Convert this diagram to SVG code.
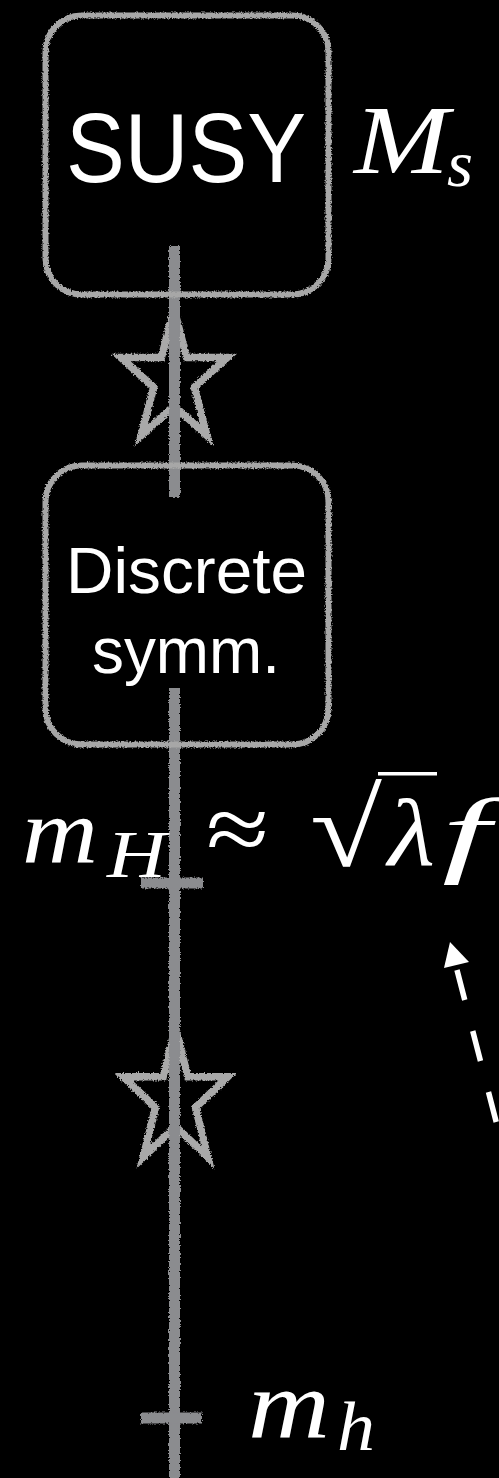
<svg xmlns="http://www.w3.org/2000/svg" width="499" height="1478" viewBox="0 0 499 1478">
<defs>
<filter id="chalk" filterUnits="userSpaceOnUse" x="0" y="0" width="499" height="1478">
<feTurbulence type="fractalNoise" baseFrequency="0.7" numOctaves="2" seed="3" result="n"/>
<feDisplacementMap in="SourceGraphic" in2="n" scale="4" xChannelSelector="R" yChannelSelector="G"/>
</filter>
<style>
.box{fill:none;stroke:#a7a7a7;stroke-width:6;filter:url(#chalk)}
.axis{stroke:#8b8c8f;stroke-width:11;fill:none;filter:url(#chalk)}
.star{fill:none;stroke:#a9a9a9;stroke-width:7.5;stroke-linejoin:miter;stroke-miterlimit:10;filter:url(#chalk)}
.sans{font-family:"Liberation Sans","Helvetica Neue",Arial,sans-serif;fill:#fff}
.math{font-family:"Liberation Serif","Times New Roman",serif;font-style:italic;fill:#fff}
.up{font-family:"Liberation Serif","DejaVu Serif",serif;fill:#fff}
</style>
</defs>
<rect x="0" y="0" width="499" height="1478" fill="#000"/>

<g id="star1">
<polygon class="star" points="174,309 186.6,357.4 227.3,357.4 194.3,387.3 206.9,435.6 174,405.7 141.1,435.6 153.7,387.3 120.7,357.4 161.4,357.4"/>
</g>
<g id="star2">
<polygon class="star" points="175.5,1027 187.8,1076.8 227.8,1076.8 195.5,1107.5 207.8,1157.2 175.5,1126.5 143.2,1157.2 155.5,1107.5 123.2,1076.8 163.2,1076.8"/>
</g>

<g id="connectors">
<line class="axis" x1="174.5" y1="246" x2="174.5" y2="497"/>
<line class="axis" x1="174.5" y1="688" x2="174.5" y2="1478"/>
<line class="axis" x1="141" y1="883" x2="203" y2="883"/>
<line class="axis" x1="141" y1="1418" x2="202" y2="1418"/>
<g id="dashed-arrow">
<line x1="457" y1="970" x2="508.6" y2="1170" stroke="#fff" stroke-width="5.5" stroke-dasharray="31 32"/>
<polygon points="450,942 444,968 469,962" fill="#fff"/>
</g>
</g>

<g id="susy">
<rect class="box" x="45.5" y="15.5" width="283" height="279" rx="36"/>
<text class="sans" x="66" y="182" font-size="98" textLength="240" lengthAdjust="spacingAndGlyphs">SUSY</text>
</g>
<g id="label-Ms">
<text class="math" x="354" y="173" font-size="98" textLength="95" lengthAdjust="spacingAndGlyphs">M</text>
<text class="math" x="447" y="186" font-size="65" textLength="26" lengthAdjust="spacingAndGlyphs">s</text>
</g>

<g id="discrete">
<rect class="box" x="45.5" y="465.5" width="283" height="279" rx="36"/>
<text class="sans" x="66" y="593" font-size="65" textLength="241" lengthAdjust="spacingAndGlyphs">Discrete</text>
<text class="sans" x="92" y="673" font-size="65" textLength="188" lengthAdjust="spacingAndGlyphs">symm.</text>
</g>

<g id="label-mH">
<text class="math" x="22" y="863" font-size="94" textLength="76" lengthAdjust="spacingAndGlyphs">m</text>
<text class="math" x="107" y="877" font-size="68" textLength="59" lengthAdjust="spacingAndGlyphs">H</text>
<text class="up" x="206" y="861" font-size="95" textLength="63" lengthAdjust="spacingAndGlyphs">≈</text>
<text class="up" x="310" y="866" font-size="110" textLength="72" lengthAdjust="spacingAndGlyphs">√</text>
<rect x="378" y="772" width="59" height="3.5" fill="#fff"/>
<text class="math" x="388" y="865" font-size="95" textLength="47" lengthAdjust="spacingAndGlyphs">λ</text>
<text class="math" x="442" y="865" font-size="95" textLength="48" lengthAdjust="spacingAndGlyphs">f</text>
</g>

<g id="label-mh">
<text class="math" x="248" y="1437" font-size="98" textLength="82" lengthAdjust="spacingAndGlyphs">m</text>
<text class="math" x="337" y="1450" font-size="70" textLength="38" lengthAdjust="spacingAndGlyphs">h</text>
</g>
</svg>
